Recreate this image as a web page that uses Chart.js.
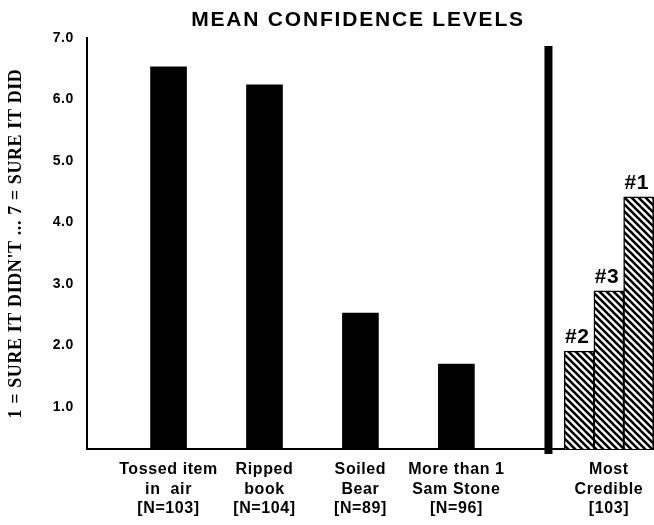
<!DOCTYPE html>
<html>
<head>
<meta charset="utf-8">
<script src="https://cdn.jsdelivr.net/npm/chart.js@4"></script>
<style>
  html, body { margin: 0; padding: 0; background: #fff; }
  #wrap { width: 654px; height: 525px; position: relative; }
</style>
</head>
<body>
<div id="wrap"><canvas id="c" width="654" height="525"></canvas></div>
<script>
// ---- data ----
const categories = [
  ["Tossed item", "in  air", "[N=103]"],
  ["Ripped", "book", "[N=104]"],
  ["Soiled", "Bear", "[N=89]"],
  ["More than 1", "Sam Stone", "[N=96]"]
];
const meanValues = [6.53, 6.24, 2.53, 1.70];
const credibleCategory = ["Most", "Credible", "[103]"];
const credibleRanks = ["#2", "#3", "#1"];
const credibleValues = [1.91, 2.89, 4.42];
const yTickValues = [1, 2, 3, 4, 5, 6, 7];
const chartTitle = "MEAN CONFIDENCE LEVELS";
const yAxisTitle = "1 = SURE IT DIDN'T ... 7 = SURE IT DID";

// ---- layout helpers (positions on a numeric x axis derived from index) ----
const groupCenter = 5.59;
const groupStep = 0.31;
const dividerAt = 4.96;

function makeHatch() {
  const s = 7;
  const c = document.createElement('canvas');
  c.width = s; c.height = s;
  const g = c.getContext('2d');
  g.fillStyle = '#fff';
  g.fillRect(0, 0, s, s);
  g.strokeStyle = '#000';
  g.lineWidth = 2.6;
  g.beginPath();
  g.moveTo(-2, -2); g.lineTo(s + 2, s + 2);
  g.moveTo(-2, s - 2); g.lineTo(2, s + 2);
  g.moveTo(s - 2, -2); g.lineTo(s + 2, 2);
  g.stroke();
  return g.createPattern(c, 'repeat');
}

const blackData = meanValues.map((v, i) => ({ x: i + 1, y: v }));
const hatchData = credibleValues.map((v, j) => ({ x: groupCenter + (j - 1) * groupStep, y: v }));
const tickLabelMap = {};
categories.forEach((c, i) => { tickLabelMap[i + 1] = c; });
tickLabelMap[groupCenter] = credibleCategory;

const extras = {
  id: 'extras',
  beforeDraw(chart) {
    chart.ctx.letterSpacing = '0.6px';
  },
  afterDatasetsDraw(chart) {
    const ctx = chart.ctx;
    const xs = chart.scales.x;
    ctx.save();
    // thick divider
    const dx = xs.getPixelForValue(dividerAt);
    ctx.fillStyle = '#000';
    ctx.fillRect(dx - 4, 46, 8, chart.chartArea.bottom + 5 - 46);
    // rank labels above hatched bars
    const meta = chart.getDatasetMeta(1);
    ctx.font = 'bold 21px "Liberation Sans", Arial, sans-serif';
    ctx.letterSpacing = '0.5px';
    ctx.textAlign = 'center';
    ctx.textBaseline = 'bottom';
    meta.data.forEach((el, j) => {
      ctx.fillText(credibleRanks[j], el.x - 2, el.y - 3);
    });
    // title
    ctx.font = 'bold 21px "Liberation Sans", Arial, sans-serif';
    ctx.letterSpacing = '1.8px';
    ctx.textBaseline = 'middle';
    ctx.fillText(chartTitle, 358, 20);
    ctx.restore();
  },
  afterDraw(chart) {
    chart.ctx.letterSpacing = '0px';
  }
};

new Chart(document.getElementById('c'), {
  type: 'bar',
  data: {
    datasets: [
      {
        data: blackData,
        backgroundColor: '#000',
        borderWidth: 0,
        barThickness: 36,
        grouped: false
      },
      {
        data: hatchData,
        backgroundColor: makeHatch(),
        borderColor: '#000',
        borderWidth: 1.5,
        borderSkipped: false,
        barThickness: 30,
        grouped: false
      }
    ]
  },
  options: {
    responsive: false,
    animation: false,
    devicePixelRatio: 1,
    layout: { padding: { top: 38, right: 0, left: 0, bottom: 0 } },
    plugins: {
      legend: { display: false },
      tooltip: { enabled: false },
      title: { display: false }
    },
    scales: {
      x: {
        type: 'linear',
        offset: false,
        min: 0.15,
        max: 6.06,
        grid: { display: false },
        border: { display: true, color: '#000', width: 2 },
        afterBuildTicks(scale) {
          scale.ticks = Object.keys(tickLabelMap).map(k => ({ value: parseFloat(k) }));
        },
        afterFit(scale) { scale.height = 76; },
        ticks: {
          autoSkip: false,
          maxRotation: 0,
          padding: 3,
          color: '#000',
          font: { family: '"Liberation Sans", Arial, sans-serif', size: 16, weight: 'bold', lineHeight: 1.22 },
          callback: (v) => tickLabelMap[v] || ''
        }
      },
      y: {
        min: 0.32,
        max: 7.0,
        grid: { display: false },
        border: { display: true, color: '#000', width: 2 },
        afterBuildTicks(scale) {
          scale.ticks = yTickValues.map(v => ({ value: v }));
        },
        afterFit(scale) { scale.width = 87; },
        ticks: {
          padding: 5,
          color: '#000',
          font: { family: '"Liberation Sans", Arial, sans-serif', size: 14, weight: 'bold' },
          callback: (v) => Number(v).toFixed(1)
        },
        title: {
          display: true,
          text: yAxisTitle,
          color: '#000',
          padding: { top: 6, bottom: 0 },
          font: { family: '"Liberation Serif", "Times New Roman", serif', size: 18, weight: 'bold' }
        }
      }
    }
  },
  plugins: [extras]
});
</script>
</body>
</html>
